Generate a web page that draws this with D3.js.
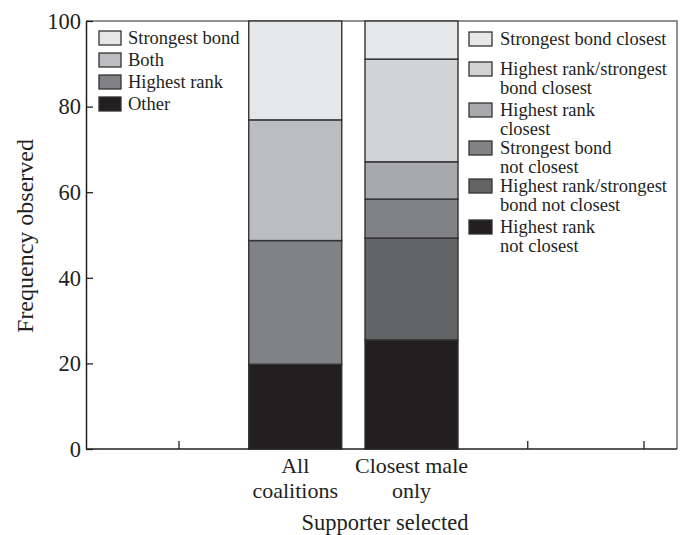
<!DOCTYPE html>
<html>
<head>
<meta charset="utf-8">
<script src="https://cdn.jsdelivr.net/npm/d3@7"></script>
<style>
  html, body { margin: 0; padding: 0; background: #fff; }
  svg { display: block; }
  text { font-family: "Liberation Serif", "Times New Roman", serif; fill: #231f20; }
</style>
</head>
<body>
<svg id="chart" width="684" height="535"></svg>
<script>
// ---------- data ----------
const slots = ["s0", "All coalitions", "Closest male only", "s3", "s4"];
const categoryLabels = [["All", "coalitions"], ["Closest male", "only"]];
const categories = ["All coalitions", "Closest male only"];

const allSeries = ["Other", "Highest rank", "Both", "Strongest bond"];
const allValues = [19.8, 28.9, 28.2, 23.1];
const allColors = ["#231f20", "#808285", "#bcbdc0", "#e6e7e8"];

const closestSeries = ["Highest rank not closest", "Highest rank/strongest bond not closest",
  "Strongest bond not closest", "Highest rank closest",
  "Highest rank/strongest bond closest", "Strongest bond closest"];
const closestValues = [25.5, 23.8, 9.1, 8.7, 24.0, 8.9];
const closestColors = ["#231f20", "#636466", "#808285", "#a7a9ac", "#d1d3d4", "#e6e7e8"];

const leftLegendLabels = [["Strongest bond"], ["Both"], ["Highest rank"], ["Other"]];
const leftLegendColors = ["#e6e7e8", "#bcbdc0", "#808285", "#231f20"];
const rightLegendLabels = [["Strongest bond closest"], ["Highest rank/strongest", "bond closest"],
  ["Highest rank", "closest"], ["Strongest bond", "not closest"],
  ["Highest rank/strongest", "bond not closest"], ["Highest rank", "not closest"]];
const rightLegendColors = ["#e6e7e8", "#d1d3d4", "#a7a9ac", "#808285", "#636466", "#231f20"];

const yTicks = [0, 20, 40, 60, 80, 100];
const yTitle = "Frequency observed";
const xTitle = "Supporter selected";

// ---------- layout ----------
const svg = d3.select("#chart");
const plot = { left: 86, right: 677, top: 21, bottom: 449 };

const x = d3.scalePoint().domain(slots).range([179, 644]);
const barW = x.step() * 0.8;
const y = d3.scaleLinear().domain([0, 100]).range([plot.bottom, plot.top]);

// frame (top & right)
svg.append("path")
  .attr("d", `M${plot.left},${plot.top}H${plot.right}V${plot.bottom}`)
  .attr("fill", "none").attr("stroke", "#6d6e71").attr("stroke-width", 1.5);

// stacked bars
function stack(values) {
  let c = 0;
  return values.map(v => { const d = { y0: c, y1: c + v }; c += v; return d; });
}
const barsData = [
  { cat: categories[0], segs: stack(allValues), colors: allColors },
  { cat: categories[1], segs: stack(closestValues), colors: closestColors }
];
barsData.forEach(b => {
  svg.append("g").selectAll("rect").data(b.segs).join("rect")
    .attr("x", x(b.cat) - barW / 2)
    .attr("width", barW)
    .attr("y", d => y(d.y1))
    .attr("height", d => y(d.y0) - y(d.y1))
    .attr("fill", (d, i) => b.colors[i])
    .attr("stroke", "#333335").attr("stroke-width", 1.4);
});

// x axis
const xAxis = svg.append("g").attr("transform", `translate(0,${plot.bottom})`);
xAxis.append("line").attr("x1", plot.left).attr("x2", plot.right)
  .attr("stroke", "#231f20").attr("stroke-width", 1.5);
const xTickSlots = slots.filter(s => !categories.includes(s));
xAxis.selectAll("line.tick").data(xTickSlots).join("line").attr("class", "tick")
  .attr("x1", d => x(d)).attr("x2", d => x(d)).attr("y1", 0).attr("y2", -8)
  .attr("stroke", "#231f20").attr("stroke-width", 1.3);

categories.forEach((c, i) => {
  const t = svg.append("text").attr("text-anchor", "middle").attr("font-size", 22);
  categoryLabels[i].forEach((ln, j) => {
    t.append("tspan").attr("x", x(c)).attr("y", 473 + j * 25).text(ln);
  });
});
svg.append("text").attr("x", 385).attr("y", 530).attr("text-anchor", "middle")
  .attr("font-size", 22.5).text(xTitle);

// y axis
const yAxisG = svg.append("g").attr("transform", `translate(${plot.left},0)`)
  .call(d3.axisLeft(y).tickValues(yTicks).tickSizeInner(-7).tickSizeOuter(0).tickPadding(5));
yAxisG.select(".domain").attr("stroke", "#231f20").attr("stroke-width", 1.5);
yAxisG.selectAll(".tick line").attr("stroke", "#231f20").attr("stroke-width", 1.3);
yAxisG.selectAll(".tick text").attr("font-size", 22.5)
  .attr("font-family", "Liberation Serif, serif").attr("fill", "#231f20").attr("dy", "0.32em");

svg.append("text").attr("transform", `translate(33,${(plot.top + plot.bottom) / 2 + 1}) rotate(-90)`)
  .attr("text-anchor", "middle").attr("font-size", 24).text(yTitle);

// left legend
const ll = svg.append("g");
leftLegendLabels.forEach((lab, i) => {
  const cy = 38 + i * 22;
  ll.append("rect").attr("x", 99).attr("y", cy - 7).attr("width", 22).attr("height", 14)
    .attr("fill", leftLegendColors[i]).attr("stroke", "#333335").attr("stroke-width", 1.3);
  ll.append("text").attr("x", 128).attr("y", cy + 6).attr("font-size", 18.5).text(lab[0]);
});

// right legend
const rl = svg.append("g");
const rightFirst = [45, 75, 116, 154, 192, 233];
rightLegendLabels.forEach((lab, i) => {
  const base = rightFirst[i];
  rl.append("rect").attr("x", 469).attr("y", base - 13).attr("width", 23).attr("height", 14)
    .attr("fill", rightLegendColors[i]).attr("stroke", "#333335").attr("stroke-width", 1.3);
  lab.forEach((ln, j) => {
    rl.append("text").attr("x", 500).attr("y", base + j * 18.5).attr("font-size", 18.5).text(ln);
  });
});
</script>
</body>
</html>
